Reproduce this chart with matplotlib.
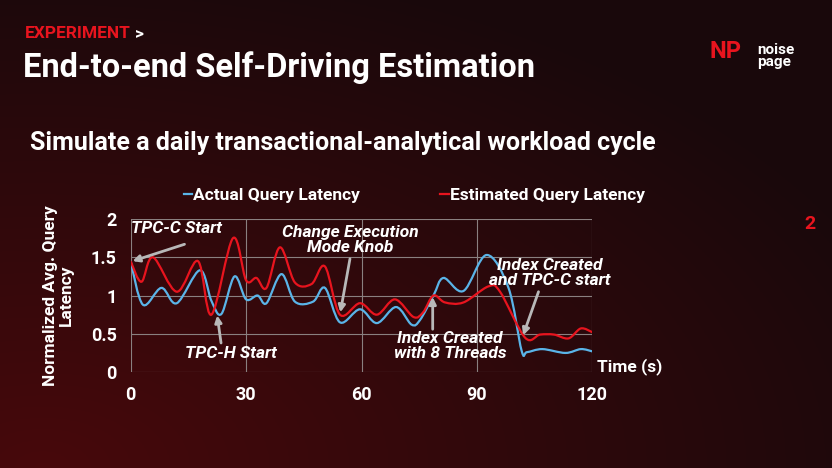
import numpy as np
import matplotlib.pyplot as plt
from matplotlib.path import Path
from matplotlib.patches import PathPatch

plt.rcParams['font.family'] = ['Roboto', 'DejaVu Sans']

# --- data ---
actual_t = [0, 3.2, 8, 12, 18, 21, 23.6, 27, 30, 33, 35.3, 39.2, 42.7, 47.4, 50.5, 54.4,
            59.6, 64, 69, 73, 75.2, 78.7, 81.3, 86.5, 92.5, 98.2, 101.6, 103, 107, 113, 117, 120]
actual_v = [1.45, 0.88, 1.1, 0.9, 1.33, 0.93, 0.76, 1.25, 0.95, 1.0, 0.9, 1.28, 0.92, 0.92, 1.1, 0.65,
            0.82, 0.64, 0.85, 0.62, 0.68, 1.0, 1.23, 1.06, 1.53, 1.1, 0.28, 0.26, 0.3, 0.25, 0.3, 0.27]
est_t = [0, 2.8, 5.8, 12, 17.5, 21, 26.6, 30, 32.7, 35.3, 38.8, 42.7, 47, 50.5, 54.4, 59.6,
         64, 68.7, 73.5, 76, 78.7, 81.7, 86.5, 93, 96, 102.5, 106.4, 110, 113.8, 117, 120]
est_v = [1.45, 1.18, 1.5, 1.05, 1.45, 0.75, 1.75, 1.2, 1.23, 1.1, 1.63, 1.17, 1.15, 1.38, 0.75, 0.9,
         0.75, 0.95, 0.72, 0.78, 1.0, 0.91, 0.91, 1.12, 1.05, 0.45, 0.49, 0.49, 0.44, 0.57, 0.52]

BLUE = "#5ab4e8"
RED = "#e8141e"


def smooth_path(xs, ys):
    # Catmull-Rom style bezier through the points (like Excel's smoothed lines)
    p = np.column_stack([xs, ys])
    verts = [p[0]]
    codes = [Path.MOVETO]
    n = len(p)
    for i in range(n - 1):
        p0 = p[max(i - 1, 0)]
        p1, p2 = p[i], p[i + 1]
        p3 = p[min(i + 2, n - 1)]
        c1 = p1 + (p2 - p0) / 6
        c2 = p2 - (p3 - p1) / 6
        verts += [c1, c2, p2]
        codes += [Path.CURVE4] * 3
    return Path(verts, codes)


fig = plt.figure(figsize=(8.32, 4.68), dpi=100)

# background gradient
bg = fig.add_axes([0, 0, 1, 1], zorder=-10)
yy, xx = np.mgrid[0:1:200j, 0:1:300j]
r = 0.10 + 0.18 * np.clip(1 - np.hypot(xx - 0.05, yy - 0.0) / 1.1, 0, 1)
img = np.dstack([r, 0.035 + 0 * r, 0.045 + 0 * r])
bg.imshow(img, extent=[0, 1, 0, 1], aspect="auto", origin="lower")
bg.axis("off")

fig.text(0.030, 0.918, "EXPERIMENT", color="#e8141e", fontsize=12.5, fontweight="bold")
fig.text(0.162, 0.918, ">", color="white", fontsize=12.5, fontweight="bold")
fig.text(0.028, 0.835, "End-to-end Self-Driving Estimation", color="white", fontsize=23.5, fontweight="bold")
fig.text(0.036, 0.68, "Simulate a daily transactional-analytical workload cycle", color="white",
         fontsize=18, fontweight="bold")
fig.text(0.853, 0.875, "NP", color="#e8141e", fontsize=17, fontweight="bold", ha="left")
fig.text(0.91, 0.86, "noise\npage", color="white", fontsize=11, fontweight="bold", linespacing=0.8)
fig.text(0.973, 0.51, "2", color="#e8141e", fontsize=14, fontweight="bold", ha="center")

ax = fig.add_axes([0.157, 0.205, 0.555, 0.327])
ax.set_facecolor("none")
ax.add_patch(PathPatch(smooth_path(actual_t, actual_v), fc="none", ec=BLUE, lw=1.6, zorder=3))
ax.add_patch(PathPatch(smooth_path(est_t, est_v), fc="none", ec=RED, lw=1.6, zorder=4))
ax.plot([], [], color=BLUE, lw=1.6, label="Actual Query Latency")
ax.plot([], [], color=RED, lw=1.6, label="Estimated Query Latency")

ax.set_xlim(0, 120)
ax.set_ylim(0, 2)
ax.set_xticks([0, 30, 60, 90, 120])
ax.set_yticks([0, 0.5, 1, 1.5, 2])
ax.set_yticklabels(["0", "0.5", "1", "1.5", "2"])
ax.grid(True, color="#8a8080", lw=0.8)
for s in ax.spines.values():
    s.set_visible(False)
ax.tick_params(colors="white", length=0, labelsize=13, pad=10)
for lbl in ax.get_xticklabels() + ax.get_yticklabels():
    lbl.set_fontweight("bold")
ax.set_ylabel("Normalized Avg. Query\nLatency", color="white", fontsize=12.5, fontweight="bold",
              labelpad=12, linespacing=1.1)
ax.text(1.01, -0.02, "Time (s)", transform=ax.transAxes, color="white", fontsize=12.5,
        fontweight="bold", ha="left", va="bottom")
leg = ax.legend(loc="lower center", bbox_to_anchor=(0.614, 1.0), ncol=2, frameon=False,
                handlelength=0.5, handletextpad=0.05, columnspacing=4.6, fontsize=12.5)
for t in leg.get_texts():
    t.set_color("white")
    t.set_fontweight("bold")

ann = dict(color="white", fontsize=12.5, fontweight="bold", style="italic", ha="center",
           va="center", linespacing=1.0, zorder=6)
arrow = dict(arrowstyle="-|>", color="#b8b8b8", lw=2, mutation_scale=10, shrinkA=0, shrinkB=0)


def note(text, tx, ty, tail, head):
    ax.text(tx, ty, text, **ann)
    ax.annotate("", xy=head, xytext=tail, arrowprops=arrow, zorder=5)


note("TPC-C Start", 12, 1.88, (14, 1.67), (0.5, 1.45))
note("TPC-H Start", 26, 0.24, (23.5, 0.38), (22.5, 0.74))
note("Change Execution\nMode Knob", 57, 1.73, (57, 1.48), (54.5, 0.78))
note("Index Created\nwith 8 Threads", 83, 0.34, (78.5, 0.56), (78.5, 0.98))
note("Index Created\nand TPC-C start", 109, 1.3, (106, 1.05), (102, 0.48))

fig.savefig("out.png", dpi=100)
